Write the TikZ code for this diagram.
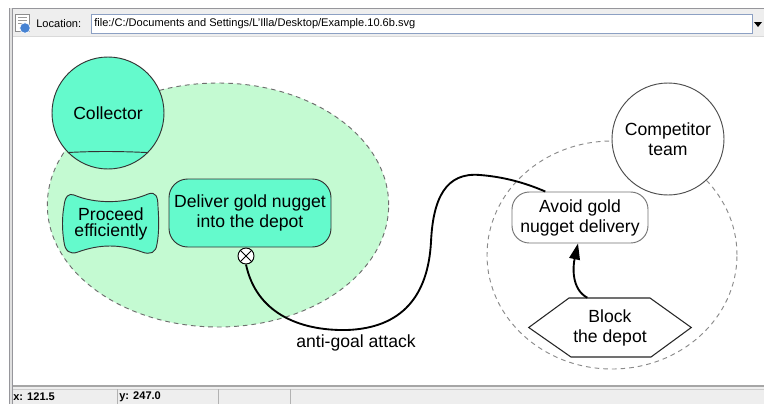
\documentclass[tikz,border=0pt]{standalone}
\usepackage{fontspec}
\setmainfont{Liberation Sans}
\usetikzlibrary{shapes.geometric,arrows.meta}
\definecolor{softgreen}{RGB}{196,250,210}
\definecolor{aqua}{RGB}{100,250,204}
\definecolor{barbg}{RGB}{238,238,238}
\definecolor{framegray}{RGB}{150,150,155}
\definecolor{fieldblue}{RGB}{140,160,195}
\definecolor{dashgray}{RGB}{110,110,110}
\definecolor{globeblue}{RGB}{70,130,210}
\tikzset{
  diagtext/.style={font=\fontsize{13.2}{15}\selectfont, align=center, text=black},
  goalbox/.style={diagtext, rectangle, rounded corners=14pt, draw=black!80, line width=0.7pt, inner sep=0pt},
  agentcirc/.style={diagtext, circle, line width=0.7pt, inner sep=0pt, minimum size=84pt},
  dashbound/.style={dashed, dash pattern=on 3.5pt off 3pt, line width=0.7pt, inner sep=0pt},
  link/.style={line width=1.4pt, black},
  uitext/.style={font=\fontsize{8.3}{10}\selectfont, inner sep=0pt, anchor=west},
}
\begin{document}
\begin{tikzpicture}[x=0.75pt,y=-0.75pt]
\useasboundingbox (0,0) rectangle (764,404);
\fill[white] (0,0) rectangle (764,404);
% ---------- window frame ----------
\fill[barbg] (9,8) rectangle (764,36);
\draw[framegray, line width=0.6pt] (9,8) -- (764,8);
\draw[black!15, line width=0.6pt] (12,36) -- (764,36);
\fill[barbg] (9,387) rectangle (764,404);
\draw[black!35, line width=0.8pt] (9,386) -- (764,386);
\draw[black!20, line width=0.6pt] (9,389) -- (764,389);
\fill[black!12] (9,8) rectangle (12,404);
\draw[framegray, line width=0.6pt] (9,8) -- (9,404);
\draw[framegray, line width=0.6pt] (12,8) -- (12,404);
% icon
\draw[black!45, fill=white, line width=0.5pt] (15,14) rectangle (29,31);
\foreach \yy in {17,20,23} \draw[black!40, line width=0.4pt] (18,\yy) -- (27,\yy);
\node[circle, fill=globeblue, draw=white, line width=0.6pt, minimum size=8pt, inner sep=0pt] (globe) at (25,28) {};
% location bar
\node[uitext] (loclabel) at (36,24) {Location:};
\node[draw=fieldblue, fill=white, line width=0.6pt, minimum width=495.75pt, minimum height=14.25pt, inner sep=0pt, anchor=west] (field) at (91,23.5) {};
\node[uitext] (path) at (94,24) {file:/C:/Documents and Settings/L'Illa/Desktop/Example.10.6b.svg};
\fill[black] (754,22) -- (762,22) -- (758,27) -- cycle;
% status bar
\foreach \xx in {117,218,290} \draw[black!30, line width=0.6pt] (\xx,389) -- (\xx,404);
\node[uitext, font=\fontsize{8.3}{10}\bfseries] (xstat) at (13,397) {x: 121.5};
\node[uitext, font=\fontsize{8.3}{10}\bfseries] (ystat) at (119,397) {y: 247.0};
% ---------- diagram ----------
% collector boundary
\node[ellipse, dashbound, draw=dashgray, fill=softgreen, minimum width=256pt, minimum height=183pt] (boundary) at (218,205) {};
% collector agent
\node[agentcirc, draw=black!80, fill=aqua] (collector) at (108,113) {Collector};
\begin{scope}
  \clip (collector.center) circle (42pt);
  \draw[black!80, line width=0.7pt] (60,153) .. controls (90,151) and (120,151) .. (156,153);
\end{scope}
% proceed efficiently (soft goal)
\draw[black!80, fill=aqua, line width=0.7pt]
  (74,195) .. controls (95,204) and (125,204) .. (148,194)
  .. controls (156,191) and (158,197) .. (158,207)
  .. controls (159,220) and (159,234) .. (157,244)
  .. controls (156,253) and (150,255) .. (142,252)
  .. controls (120,244) and (100,244) .. (78,252)
  .. controls (70,255) and (65,251) .. (64,242)
  .. controls (62,230) and (62,217) .. (64,206)
  .. controls (65,196) and (69,193) .. (74,195) -- cycle;
\node[diagtext, font=\fontsize{13.2}{12.5}\selectfont] (proceed) at (111,224) {Proceed\\efficiently};
% deliver goal
\node[goalbox, fill=aqua, minimum width=121.5pt, minimum height=51pt] (deliver) at (250,213) {Deliver gold nugget\\into the depot};
% competitor boundary
\node[ellipse, dashbound, draw=dashgray!80, minimum width=187.5pt, minimum height=171pt] (compbound) at (612,255) {};
\node[agentcirc, draw=black!70, fill=white] (competitor) at (668,139) {Competitor\\team};
% avoid anti-goal
\node[goalbox, draw=black!55, fill=white, rounded corners=13pt, minimum width=102pt, minimum height=38.25pt] (avoid) at (580,217.5) {Avoid gold\\nugget delivery};
% block the depot (hexagon)
\node[diagtext, minimum width=121.5pt, minimum height=44.25pt, inner sep=0pt] (block) at (610,327.5) {Block\\the depot};
\draw[black!85, line width=0.8pt] (block.west) -- (569,298) -- (650,298) -- (block.east) -- (651,357) -- (571,357) -- cycle;
% xor marker
\node[circle, draw=black, fill=white, line width=0.7pt, minimum size=12pt, inner sep=0pt] (xor) at (246,256) {};
\draw[black, line width=0.7pt] (xor.45) -- (xor.225) (xor.135) -- (xor.315);
% anti-goal attack link
\draw[link] (xor.south) .. controls (256,312) and (298,331) .. (347,330)
  .. controls (402,328) and (428,296) .. (431,242)
  .. controls (433,198) and (446,172) .. (480,175)
  .. controls (506,177) and (528,184) .. ([xshift=-26pt]avoid.north);
\node[diagtext] (attacklabel) at (356,343) {anti-goal attack};
% refinement arrow
\draw[link, -{Triangle[length=12pt,width=8pt]}] ([xshift=-17pt]block.north) .. controls (571,289) and (573,266) .. ([xshift=-1.5pt]avoid.south);
\end{tikzpicture}
\end{document}
